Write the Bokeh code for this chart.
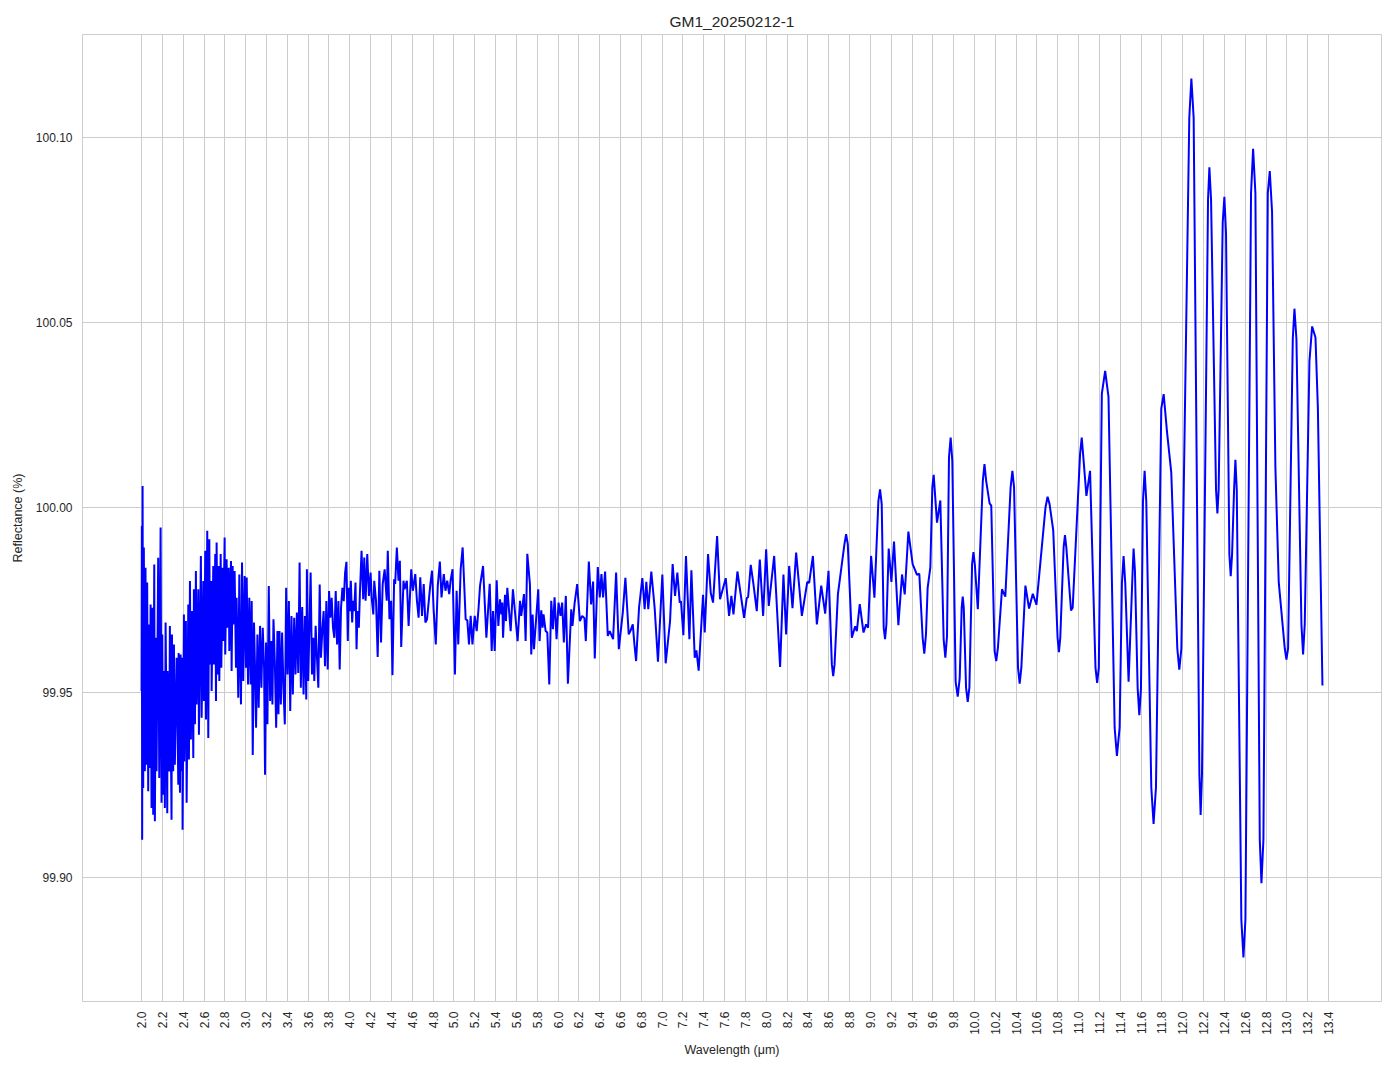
import math
from bokeh.plotting import figure
from bokeh.models import Range1d, FixedTicker, NumeralTickFormatter
from bokeh.embed import file_html
from bokeh.resources import INLINE

TITLE = "GM1_20250212-1"
X_LABEL = "Wavelength (\u03bcm)"
Y_LABEL = "Reflectance (%)"

# (wavelength um, reflectance %), region by region
seg_2_3 = [
    (2.000, 99.9505), (2.003, 99.9951), (2.006, 99.9103), (2.010, 100.0059), (2.016, 99.9243),
    (2.022, 99.9893), (2.032, 99.9288), (2.038, 99.9838), (2.048, 99.9306), (2.054, 99.9798),
    (2.064, 99.9234), (2.071, 99.9685), (2.080, 99.9297), (2.087, 99.9739), (2.096, 99.9189),
    (2.103, 99.9730), (2.112, 99.9171), (2.122, 99.9847), (2.128, 99.9153), (2.138, 99.9649),
    (2.144, 99.9288), (2.160, 99.9865), (2.170, 99.9270), (2.183, 99.9947), (2.192, 99.9203),
    (2.199, 99.9658), (2.208, 99.9225), (2.218, 99.9559), (2.224, 99.9189), (2.231, 99.9690),
    (2.247, 99.9175), (2.250, 99.9559), (2.266, 99.9288), (2.272, 99.9681), (2.288, 99.9157),
    (2.292, 99.9658), (2.304, 99.9288), (2.311, 99.9631), (2.320, 99.9306), (2.337, 99.9595),
    (2.353, 99.9252), (2.356, 99.9608), (2.369, 99.9230), (2.375, 99.9604), (2.385, 99.9288),
    (2.391, 99.9595), (2.394, 99.9130), (2.407, 99.9712), (2.410, 99.9315), (2.426, 99.9694),
    (2.433, 99.9203), (2.449, 99.9739), (2.455, 99.9320), (2.465, 99.9802), (2.474, 99.9374),
    (2.484, 99.9721), (2.497, 99.9324), (2.503, 99.9780), (2.513, 99.9415), (2.522, 99.9829),
    (2.529, 99.9469), (2.545, 99.9780), (2.551, 99.9387), (2.570, 99.9870), (2.577, 99.9433),
    (2.593, 99.9802), (2.599, 99.9478), (2.612, 99.9884), (2.619, 99.9428), (2.631, 99.9938),
    (2.641, 99.9378), (2.651, 99.9915), (2.657, 99.9577), (2.670, 99.9802), (2.673, 99.9505),
    (2.689, 99.9843), (2.695, 99.9577), (2.708, 99.9875), (2.715, 99.9478), (2.721, 99.9906),
    (2.731, 99.9550), (2.740, 99.9843), (2.747, 99.9532), (2.760, 99.9875), (2.766, 99.9568),
    (2.779, 99.9838), (2.785, 99.9640), (2.798, 99.9920), (2.804, 99.9604), (2.817, 99.9861),
    (2.824, 99.9676), (2.837, 99.9838), (2.843, 99.9613), (2.859, 99.9856), (2.865, 99.9559),
    (2.875, 99.9843), (2.881, 99.9685), (2.894, 99.9829), (2.907, 99.9568), (2.913, 99.9757),
    (2.929, 99.9487), (2.939, 99.9820),
]

seg_3_4 = [
    (2.945, 99.9622), (2.955, 99.9469), (2.965, 99.9852), (2.977, 99.9532), (2.990, 99.9816),
    (3.003, 99.9568), (3.010, 99.9812), (3.023, 99.9523), (3.035, 99.9757), (3.048, 99.9523),
    (3.058, 99.9748), (3.068, 99.9332), (3.080, 99.9690), (3.090, 99.9568), (3.100, 99.9406),
    (3.113, 99.9658), (3.125, 99.9460), (3.138, 99.9681), (3.151, 99.9514), (3.164, 99.9676),
    (3.177, 99.9568), (3.186, 99.9279), (3.196, 99.9636), (3.209, 99.9415), (3.222, 99.9789),
    (3.235, 99.9478), (3.248, 99.9640), (3.257, 99.9469), (3.267, 99.9699), (3.280, 99.9586),
    (3.293, 99.9406), (3.305, 99.9667), (3.315, 99.9442), (3.325, 99.9667), (3.338, 99.9469),
    (3.350, 99.9663), (3.363, 99.9514), (3.376, 99.9415), (3.389, 99.9784), (3.402, 99.9550),
    (3.415, 99.9748), (3.428, 99.9451), (3.440, 99.9708), (3.453, 99.9496), (3.466, 99.9703),
    (3.479, 99.9550), (3.492, 99.9717), (3.505, 99.9554), (3.518, 99.9852), (3.530, 99.9514),
    (3.543, 99.9732), (3.556, 99.9496), (3.569, 99.9708), (3.582, 99.9482), (3.588, 99.9834),
    (3.601, 99.9532), (3.614, 99.9699), (3.624, 99.9825), (3.637, 99.9550), (3.649, 99.9649),
    (3.659, 99.9532), (3.672, 99.9681), (3.685, 99.9595), (3.698, 99.9514), (3.711, 99.9793),
    (3.723, 99.9595), (3.736, 99.9667), (3.749, 99.9721), (3.762, 99.9572), (3.775, 99.9748),
    (3.788, 99.9563), (3.801, 99.9775), (3.813, 99.9703), (3.826, 99.9757), (3.839, 99.9676),
    (3.852, 99.9649), (3.865, 99.9775), (3.878, 99.9631), (3.891, 99.9748), (3.903, 99.9563),
    (3.916, 99.9730), (3.929, 99.9784), (3.942, 99.9748), (3.955, 99.9825), (3.968, 99.9854),
    (3.981, 99.9640), (3.990, 99.9784),
]

seg_4_5 = [
    (4.000, 99.9721), (4.010, 99.9803), (4.023, 99.9690), (4.032, 99.9749), (4.042, 99.9721),
    (4.055, 99.9798), (4.065, 99.9618), (4.074, 99.9721), (4.087, 99.9676), (4.097, 99.9767),
    (4.113, 99.9884), (4.129, 99.9753), (4.139, 99.9866), (4.152, 99.9749), (4.168, 99.9875),
    (4.184, 99.9762), (4.200, 99.9825), (4.210, 99.9758), (4.226, 99.9712), (4.235, 99.9803),
    (4.252, 99.9749), (4.268, 99.9597), (4.284, 99.9830), (4.300, 99.9636), (4.316, 99.9794),
    (4.335, 99.9834), (4.355, 99.9749), (4.365, 99.9884), (4.381, 99.9699), (4.397, 99.9749),
    (4.410, 99.9548), (4.426, 99.9807), (4.436, 99.9794), (4.452, 99.9893), (4.468, 99.9803),
    (4.481, 99.9857), (4.494, 99.9624), (4.516, 99.9803), (4.526, 99.9780), (4.548, 99.9803),
    (4.565, 99.9681), (4.590, 99.9834), (4.606, 99.9776), (4.629, 99.9821), (4.645, 99.9749),
    (4.661, 99.9703), (4.677, 99.9812), (4.694, 99.9708), (4.710, 99.9794), (4.726, 99.9690),
    (4.742, 99.9699), (4.774, 99.9794), (4.790, 99.9830), (4.806, 99.9721), (4.826, 99.9631),
    (4.845, 99.9789), (4.865, 99.9855), (4.881, 99.9758), (4.903, 99.9821), (4.919, 99.9776),
    (4.936, 99.9803), (4.955, 99.9767), (4.968, 99.9803), (4.987, 99.9834), (5.010, 99.9550),
    (5.026, 99.9776), (5.042, 99.9631), (5.065, 99.9834), (5.084, 99.9893), (5.113, 99.9699),
    (5.129, 99.9696), (5.145, 99.9631), (5.161, 99.9708), (5.178, 99.9631), (5.200, 99.9708),
    (5.219, 99.9667), (5.236, 99.9726),
]

seg_5_7 = [
    (5.251, 99.9789), (5.280, 99.9843), (5.312, 99.9649), (5.344, 99.9795), (5.363, 99.9613),
    (5.376, 99.9721), (5.392, 99.9613), (5.411, 99.9804), (5.427, 99.9681), (5.443, 99.9753),
    (5.456, 99.9712), (5.465, 99.9744), (5.472, 99.9649), (5.491, 99.9765), (5.500, 99.9694),
    (5.513, 99.9784), (5.545, 99.9667), (5.567, 99.9780), (5.612, 99.9640), (5.635, 99.9749),
    (5.647, 99.9708), (5.673, 99.9767), (5.689, 99.9640), (5.705, 99.9876), (5.730, 99.9794),
    (5.743, 99.9604), (5.756, 99.9712), (5.769, 99.9618), (5.810, 99.9780), (5.823, 99.9640),
    (5.839, 99.9723), (5.852, 99.9676), (5.861, 99.9712), (5.881, 99.9667), (5.897, 99.9663),
    (5.916, 99.9523), (5.935, 99.9749), (5.951, 99.9672), (5.967, 99.9758), (5.986, 99.9645),
    (6.005, 99.9744), (6.024, 99.9708), (6.040, 99.9744), (6.056, 99.9636), (6.075, 99.9762),
    (6.095, 99.9525), (6.127, 99.9726), (6.139, 99.9681), (6.159, 99.9741), (6.184, 99.9794),
    (6.210, 99.9694), (6.232, 99.9708), (6.254, 99.9702), (6.267, 99.9640), (6.296, 99.9855),
    (6.318, 99.9739), (6.337, 99.9801), (6.353, 99.9593), (6.382, 99.9840), (6.401, 99.9758),
    (6.417, 99.9821), (6.433, 99.9758), (6.452, 99.9828), (6.478, 99.9654), (6.497, 99.9667),
    (6.529, 99.9645), (6.558, 99.9825), (6.584, 99.9618), (6.622, 99.9717), (6.647, 99.9811),
    (6.679, 99.9658), (6.695, 99.9667), (6.718, 99.9685), (6.734, 99.9631), (6.750, 99.9586),
]

seg_7_8 = [
    (6.778, 99.9730), (6.810, 99.9810), (6.832, 99.9726), (6.848, 99.9800), (6.867, 99.9726),
    (6.896, 99.9828), (6.928, 99.9730), (6.960, 99.9584), (7.002, 99.9820), (7.034, 99.9580),
    (7.076, 99.9694), (7.101, 99.9848), (7.124, 99.9762), (7.146, 99.9825), (7.169, 99.9744),
    (7.181, 99.9748), (7.204, 99.9656), (7.229, 99.9870), (7.262, 99.9645), (7.281, 99.9831),
    (7.313, 99.9595), (7.329, 99.9615), (7.351, 99.9560), (7.393, 99.9765), (7.409, 99.9663),
    (7.441, 99.9875), (7.467, 99.9770), (7.489, 99.9744), (7.528, 99.9924), (7.556, 99.9753),
    (7.611, 99.9810), (7.643, 99.9708), (7.665, 99.9762), (7.685, 99.9712), (7.723, 99.9828),
    (7.787, 99.9703), (7.813, 99.9757), (7.826, 99.9759), (7.851, 99.9846), (7.877, 99.9794),
    (7.909, 99.9721), (7.938, 99.9860), (7.970, 99.9708), (7.999, 99.9888), (8.024, 99.9735),
    (8.076, 99.9870), (8.133, 99.9570), (8.165, 99.9820), (8.191, 99.9658), (8.220, 99.9843),
    (8.252, 99.9729), (8.287, 99.9879),
]

seg_8_10 = [
    (8.342, 99.9708), (8.394, 99.9800), (8.412, 99.9797), (8.448, 99.9870), (8.486, 99.9685),
    (8.528, 99.9790), (8.566, 99.9714), (8.598, 99.9830), (8.630, 99.9577), (8.643, 99.9545),
    (8.656, 99.9577), (8.688, 99.9766), (8.751, 99.9902), (8.767, 99.9929), (8.783, 99.9902),
    (8.822, 99.9649), (8.854, 99.9680), (8.870, 99.9667), (8.898, 99.9740),
    (8.934, 99.9663), (8.959, 99.9685), (8.978, 99.9676), (9.007, 99.9870), (9.039, 99.9757),
    (9.077, 100.0019), (9.093, 100.0050), (9.109, 100.0010), (9.128, 99.9676), (9.141, 99.9645),
    (9.154, 99.9685), (9.176, 99.9890), (9.202, 99.9800), (9.227, 99.9909),
    (9.269, 99.9683), (9.304, 99.9820), (9.330, 99.9766), (9.365, 99.9936), (9.406, 99.9848),
    (9.448, 99.9819), (9.470, 99.9822), (9.502, 99.9649), (9.518, 99.9606), (9.534, 99.9658),
    (9.550, 99.9784), (9.576, 99.9839), (9.595, 100.0055),
    (9.608, 100.0089), (9.640, 99.9960), (9.672, 100.0020), (9.704, 99.9644), (9.720, 99.9595),
    (9.736, 99.9653), (9.755, 100.0136), (9.771, 100.0190), (9.787, 100.0127), (9.819, 99.9530),
    (9.839, 99.9490), (9.858, 99.9540),
]

seg_10_11 = [
    (9.877, 99.9730), (9.887, 99.9760), (9.897, 99.9730), (9.919, 99.9514), (9.935, 99.9476),
    (9.951, 99.9514), (9.977, 99.9848), (9.990, 99.9880), (10.003, 99.9848), (10.032, 99.9726),
    (10.080, 100.0073), (10.096, 100.0118), (10.112, 100.0073),
    (10.145, 100.0012), (10.161, 100.0006), (10.193, 99.9613), (10.209, 99.9586), (10.225, 99.9622),
    (10.264, 99.9780), (10.296, 99.9760), (10.347, 100.0055),
    (10.364, 100.0100), (10.380, 100.0055), (10.418, 99.9568), (10.434, 99.9525), (10.450, 99.9568),
    (10.489, 99.9790), (10.524, 99.9728), (10.560, 99.9768),
    (10.595, 99.9738), (10.682, 100.0001), (10.702, 100.0030), (10.721, 100.0010), (10.756, 99.9940),
    (10.798, 99.9649), (10.811, 99.9610), (10.824, 99.9649), (10.856, 99.9893), (10.869, 99.9926),
    (10.882, 99.9893), (10.927, 99.9723), (10.943, 99.9730), (11.014, 100.0145), (11.030, 100.0190),
    (11.043, 100.0145), (11.075, 100.0032), (11.110, 100.0100), (11.162, 99.9568),
    (11.178, 99.9527), (11.194, 99.9568), (11.223, 100.0308), (11.255, 100.0370), (11.287, 100.0300),
]

seg_11_13 = [
    (11.346, 99.9406), (11.368, 99.9330), (11.394, 99.9406), (11.416, 99.9796), (11.432, 99.9870),
    (11.448, 99.9796), (11.480, 99.9530), (11.519, 99.9830), (11.528, 99.9890), (11.541, 99.9830),
    (11.567, 99.9513), (11.583, 99.9440), (11.599, 99.9513), (11.618, 100.0017), (11.634, 100.0100),
    (11.650, 100.0017), (11.698, 99.9245), (11.720, 99.9146),
    (11.743, 99.9245), (11.794, 100.0268), (11.817, 100.0307), (11.849, 100.0205), (11.890, 100.0095),
    (11.948, 99.9620), (11.967, 99.9563), (11.987, 99.9620), (12.063, 100.1053), (12.083, 100.1160),
    (12.105, 100.1053), (12.160, 99.9280), (12.172, 99.9170), (12.185, 99.9280), (12.243, 100.0833),
    (12.256, 100.0920), (12.272, 100.0833), (12.320, 100.0048), (12.333, 99.9985), (12.345, 100.0048),
    (12.384, 100.0770), (12.400, 100.0840), (12.416, 100.0740), (12.448, 99.9874), (12.461, 99.9815),
    (12.474, 99.9874), (12.493, 100.0048), (12.506, 100.0130), (12.519, 100.0048),
    (12.563, 99.8887), (12.583, 99.8785), (12.602, 99.8887),
    (12.656, 100.0850), (12.676, 100.0970), (12.698, 100.0850), (12.740, 99.9104), (12.756, 99.8986),
    (12.775, 99.9104), (12.817, 100.0850), (12.836, 100.0910), (12.858, 100.0800), (12.890, 100.0110),
    (12.922, 99.9800), (12.980, 99.9620), (12.996, 99.9590), (13.012, 99.9620), (13.057, 100.0456),
    (13.073, 100.0538), (13.092, 100.0456), (13.140, 99.9686), (13.156, 99.9604), (13.172, 99.9686),
    (13.217, 100.0396), (13.243, 100.0490), (13.275, 100.0460), (13.298, 100.0270), (13.342, 99.9520),
]

x_ticks = [2.0, 2.2, 2.4, 2.6, 2.8, 3.0, 3.2, 3.4, 3.6, 3.8, 4.0, 4.2, 4.4, 4.6, 4.8,
           5.0, 5.2, 5.4, 5.6, 5.8, 6.0, 6.2, 6.4, 6.6, 6.8, 7.0, 7.2, 7.4, 7.6, 7.8,
           8.0, 8.2, 8.4, 8.6, 8.8, 9.0, 9.2, 9.4, 9.6, 9.8, 10.0, 10.2, 10.4, 10.6,
           10.8, 11.0, 11.2, 11.4, 11.6, 11.8, 12.0, 12.2, 12.4, 12.6, 12.8, 13.0,
           13.2, 13.4]
y_ticks = [99.90, 99.95, 100.00, 100.05, 100.10]

segments = [seg_2_3, seg_3_4, seg_4_5, seg_5_7, seg_7_8, seg_8_10, seg_10_11, seg_11_13]
wl = [pt[0] for seg in segments for pt in seg]
refl = [pt[1] for seg in segments for pt in seg]

xmin, xmax = min(wl), max(wl)
ymin, ymax = min(refl), max(refl)
xpad = 0.05 * (xmax - xmin)
ypad = 0.05 * (ymax - ymin)

TEXT = "#262626"
GRID = "#cccccc"
FONT = "Liberation Sans"

p = figure(width=1394, height=1069, output_backend="svg", toolbar_location=None,
           x_range=Range1d(xmin - xpad, xmax + xpad),
           y_range=Range1d(ymin - ypad, ymax + ypad),
           min_border_left=82, min_border_right=13, min_border_top=34, min_border_bottom=68,
           title=TITLE)

p.title.align = "center"
p.title.text_font = FONT
p.title.text_font_size = "15.5px"
p.title.text_font_style = "normal"
p.title.text_color = TEXT

p.outline_line_color = GRID
p.outline_line_width = 1
p.background_fill_color = "white"
p.border_fill_color = "white"

p.xaxis.ticker = FixedTicker(ticks=x_ticks)
p.xaxis.formatter = NumeralTickFormatter(format="0.0")
p.xaxis.major_label_orientation = math.pi / 2
p.yaxis.ticker = FixedTicker(ticks=y_ticks)
p.yaxis.formatter = NumeralTickFormatter(format="0.00")

for ax in (p.xaxis[0], p.yaxis[0]):
    ax.axis_line_color = None
    ax.major_tick_line_color = None
    ax.minor_tick_line_color = None
    ax.major_tick_out = 0
    ax.major_tick_in = 0
    ax.major_label_text_font = FONT
    ax.major_label_text_font_size = "12px"
    ax.major_label_text_color = TEXT
    ax.major_label_standoff = 10
    ax.axis_label_text_font = FONT
    ax.axis_label_text_font_size = "12.5px"
    ax.axis_label_text_font_style = "normal"
    ax.axis_label_text_color = TEXT

p.xaxis.axis_label_standoff = 5
p.yaxis.axis_label_standoff = 8
p.xaxis.axis_label = X_LABEL
p.yaxis.axis_label = Y_LABEL

p.xgrid.grid_line_color = GRID
p.ygrid.grid_line_color = GRID
p.xgrid.grid_line_width = 1
p.ygrid.grid_line_width = 1

p.line(wl, refl, line_color="#0000ff", line_width=2)

open("out.html", "w").write(file_html(p, INLINE))
